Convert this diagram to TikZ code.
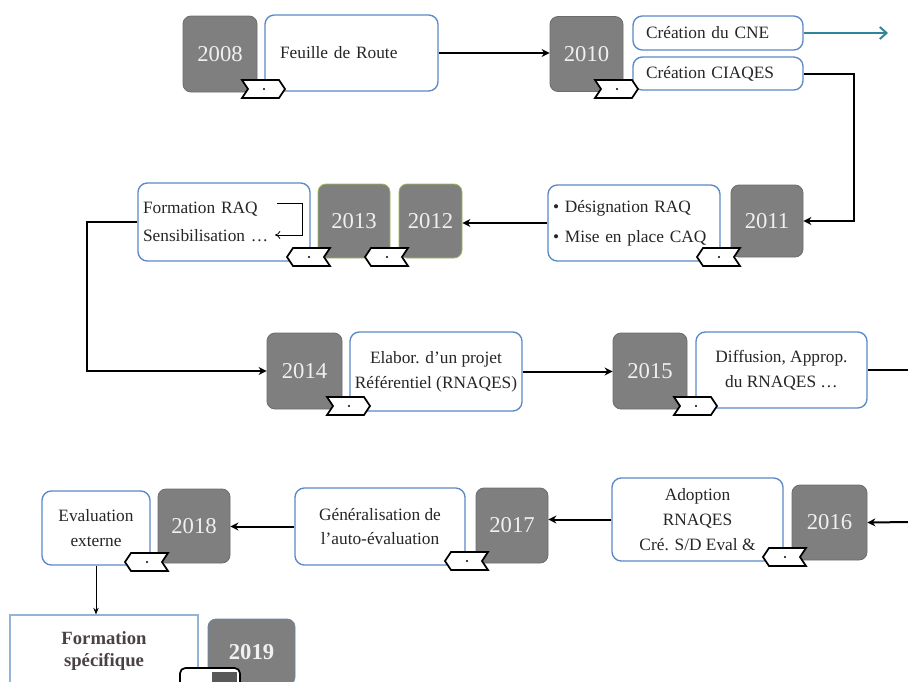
\documentclass[tikz,border=0pt]{standalone}
\usepackage{fontspec}
\setmainfont{Liberation Serif}
\usepackage{xcolor}
\usepackage{tikz}
\usetikzlibrary{arrows.meta}
\definecolor{yrgray}{HTML}{7F7F7F}
\definecolor{boxblue}{HTML}{5B8AC6}
\definecolor{leaf}{HTML}{9BBB59}
\definecolor{sea}{HTML}{31849B}
\definecolor{ink}{HTML}{262626}
\definecolor{pale}{HTML}{95B3D7}
\definecolor{brownink}{HTML}{4A4242}
\tikzset{
  sz/.style 2 args={minimum width=#1*0.75pt, minimum height=#2*0.75pt},
  yr/.style={rounded corners=6pt, fill=yrgray, draw=yrgray!85!black, line width=0.6pt,
    text=white!94!black, font=\fontsize{17}{20}\selectfont, inner sep=0pt},
  tbox/.style={rounded corners=7pt, fill=white, draw=boxblue, line width=1pt,
    text=ink, font=\fontsize{13}{18.5}\selectfont, align=center, inner sep=0pt},
  tagline/.style={fill=white, draw=black, line width=1.3pt, line join=miter},
  arr/.style={draw=black, line width=1.5pt, -{Stealth[length=6pt,width=6pt]}},
  tagR/.pic={
    \draw[tagline] (0,0) -- (37,0) -- (43,9) -- (37,18) -- (0,18) -- (6,9) -- cycle;
    \fill (22,9) circle (0.8pt);
  },
  tagL/.pic={
    \draw[tagline] (0,9) -- (6,0) -- (43,0) -- (37,9) -- (43,18) -- (6,18) -- cycle;
    \fill (22,9) circle (0.8pt);
  },
}

\begin{document}
\begin{tikzpicture}[x=0.75pt, y=-0.75pt]
  \useasboundingbox (0,0) rectangle (908,682);

  % row 1
  \node[yr, sz={74}{76}] (y2008) at (220,54) {2008};
  \node[tbox, sz={173}{76}, text width=143*0.75pt, align=left] (feuille) at (351.5,53) {Feuille de Route};
  \node[yr, sz={73}{75}] (y2010) at (586.5,54) {2010};
  \node[tbox, sz={170}{34}, text width=144*0.75pt, align=left] (cne) at (718,33) {Création du CNE};
  \node[tbox, sz={170}{33}, text width=144*0.75pt, align=left] (ciaqes) at (718,73.5) {Création CIAQES};
  \coordinate (cneend) at (888,33);

  % row 2
  \node[yr, sz={72}{72}] (y2011) at (767,221) {2011};
  \node[tbox, sz={172}{76}, text width=162*0.75pt, align=left, font=\fontsize{13}{22.5}\selectfont] (desig) at (634,223)
    {• Désignation RAQ\\• Mise en place CAQ};
  \node[yr, sz={63}{74}, draw=leaf] (y2012) at (430.5,221) {2012};
  \node[yr, sz={72}{74}, draw=leaf] (y2013) at (354,221) {2013};
  \node[tbox, sz={172}{78}, text width=162*0.75pt, align=left, font=\fontsize{13}{21}\selectfont] (fraq) at (224,222)
    {Formation RAQ\\Sensibilisation …};
  \draw[line width=0.6pt, -{To[length=4pt,width=6pt]}] (277,203) -- (302,203) -- (302,235) -- (275,235);

  % row 3
  \node[yr, sz={75}{76}] (y2014) at (304.5,371) {2014};
  \node[tbox, sz={172}{79}] (elabor) at (436,371.5) {Elabor. d’un projet\\Référentiel (RNAQES)};
  \node[yr, sz={74}{76}] (y2015) at (650,371) {2015};
  \node[tbox, sz={171}{76}] (diff) at (781.5,370) {Diffusion, Approp.\\du RNAQES …};
  \coordinate (diffout) at (912,370);

  % row 4
  \coordinate (adin) at (912,522);
  \node[yr, sz={75}{75}] (y2016) at (829.5,522.5) {2016};
  \node[tbox, sz={171}{83}] (adopt) at (697.5,519.5) {Adoption\\RNAQES\\Cré. S/D Eval \&};
  \node[yr, sz={72}{75}] (y2017) at (512,525.5) {2017};
  \node[tbox, sz={170}{77}] (gener) at (380,526.5) {Généralisation de\\l’auto-évaluation};
  \node[yr, sz={72}{74}] (y2018) at (194,526) {2018};
  \node[tbox, sz={108}{74}] (evalx) at (96,528) {Evaluation\\externe};

  % row 5
  \node[draw=pale, line width=0.8pt, fill=white, sz={188}{72}, inner sep=0pt, align=center,
    text=brownink, font=\fontsize{14}{16.5}\selectfont\bfseries] (formspec) at (104,651) {Formation\\spécifique};
  \node[yr, sz={87}{66}, draw=boxblue!60!yrgray, font=\fontsize{17}{20}\selectfont\bfseries] (y2019) at (251.5,652) {2019};

  % tags
  \pic at (242,80) {tagR};
  \pic at (595,80) {tagR};
  \pic at (697,248) {tagL};
  \pic at (287,248) {tagL};
  \pic at (365,248) {tagL};
  \pic at (327,397) {tagR};
  \pic at (674,397) {tagR};
  \pic at (763,548) {tagL};
  \pic at (445,552) {tagL};
  \pic at (125,553) {tagL};
  \draw[tagline, rounded corners=4pt] (180,668) rectangle (240,692);
  \fill[yrgray!70!black] (212,672) rectangle (237,692);

  % connectors
  \draw[arr, line width=2pt] (feuille.east) -- (feuille.east -| y2010.west);
  \draw[draw=sea, line width=1.5pt, -{Straight Barb[length=5pt,width=9pt]}] (cne.east) -- (cneend);
  \draw[arr] (ciaqes.east) -- ++(50,0) |- (y2011.east);
  \draw[arr] (desig.west) -- (desig.west -| y2012.east);
  \draw[arr] (fraq.west) -- ++(-50,0) |- (y2014.west);
  \draw[arr] (elabor.east) -- (elabor.east -| y2015.west);
  \draw[line width=1.5pt] (diff.east) -- (diffout);
  \draw[arr] (adin) -- (y2016.east);
  \draw[arr] (adopt.west) -- (adopt.west -| y2017.east);
  \draw[arr] (gener.west) -- (gener.west -| y2018.east);
  \draw[line width=0.6pt, -{Stealth[length=5pt,width=4pt]}] (evalx.south) -- (evalx.south |- formspec.north);
\end{tikzpicture}
\end{document}
